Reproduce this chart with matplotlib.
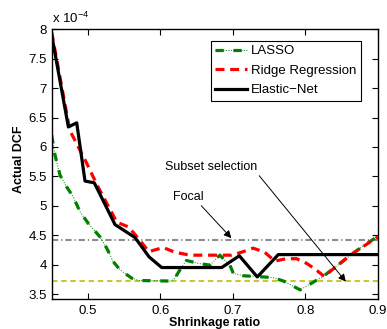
import numpy as np
import matplotlib
matplotlib.use("Agg")
import matplotlib.pyplot as plt
from matplotlib.ticker import FuncFormatter

plt.rcParams['font.family'] = ['Liberation Sans', 'DejaVu Sans']
plt.rcParams['mathtext.default'] = 'regular'

# --- data (Actual DCF in units of 1e-4) ---
lasso_x = [0.45, 0.4546, 0.4615, 0.4707, 0.4798, 0.489, 0.5005, 0.5167, 0.5259, 0.535,
           0.5443, 0.5604, 0.5696, 0.615, 0.62, 0.627, 0.636, 0.6525, 0.6686, 0.682,
           0.696, 0.7007, 0.7146, 0.742, 0.755, 0.77, 0.793, 0.811, 0.827, 0.848,
           0.869, 0.889, 0.9]
lasso_y = [6.2, 5.86, 5.52, 5.32, 5.15, 4.90, 4.70, 4.47, 4.28, 4.05,
           3.91, 3.77, 3.73, 3.72, 3.77, 3.91, 4.07, 4.02, 3.99, 4.16,
           3.99, 3.85, 3.81, 3.79, 3.78, 3.72, 3.57, 3.70, 3.82, 4.02,
           4.22, 4.39, 4.48]

ridge_x = [0.45, 0.475, 0.496, 0.514, 0.540, 0.556, 0.570, 0.584, 0.604, 0.620,
           0.641, 0.698, 0.712, 0.728, 0.744, 0.758, 0.774, 0.788, 0.802, 0.816,
           0.826, 0.862, 0.9]
ridge_y = [7.95, 6.28, 5.78, 5.32, 4.72, 4.64, 4.44, 4.22, 4.29, 4.21,
           4.16, 4.16, 4.21, 4.28, 4.21, 4.06, 4.10, 4.10, 4.02, 3.90,
           3.80, 4.16, 4.47]

enet_x = [0.45, 0.473, 0.4845, 0.496, 0.5088, 0.5374, 0.565, 0.5845, 0.6018, 0.6847,
          0.709, 0.7338, 0.7628, 0.9]
enet_y = [7.9, 6.34, 6.41, 5.42, 5.39, 4.68, 4.46, 4.13, 3.95, 3.95,
          4.15, 3.79, 4.17, 4.17]

focal_level = 4.42
subset_level = 3.72

x_ticks = [0.5, 0.6, 0.7, 0.8, 0.9]
y_ticks = [3.5, 4, 4.5, 5, 5.5, 6, 6.5, 7, 7.5, 8]

# --- plot ---
fig = plt.figure(figsize=(3.87, 3.29), dpi=100)
ax = fig.add_axes([51.7 / 387, 30 / 329, 326 / 387, 269.7 / 329])

ax.axhline(focal_level, color='#8c8c8c', lw=1.5, dashes=(3.0, 1.4, 0.6, 1.4))
ax.axhline(subset_level, color='#c8c832', lw=1.5, dashes=(2.6, 1.8))

g_thin, = ax.plot(lasso_x, lasso_y, color='#008000', lw=0.7, ls=':')
g_thick, = ax.plot(lasso_x, lasso_y, color='#008000', lw=2.3, dashes=(2.6, 3.0))
r_line, = ax.plot(ridge_x, ridge_y, color='red', lw=2.3, dashes=(2.8, 1.8))
k_line, = ax.plot(enet_x, enet_y, color='black', lw=2.3)

ax.set_xlim(0.45, 0.9)
ax.set_ylim(3.415, 8)
ax.set_xticks(x_ticks)
ax.set_yticks(y_ticks)
ax.yaxis.set_major_formatter(FuncFormatter(lambda v, p: '%g' % v))
ax.xaxis.set_major_formatter(FuncFormatter(lambda v, p: '%g' % v))
ax.tick_params(direction='in', top=True, right=True, labelsize=9.5, length=4, width=0.8)
ax.tick_params(axis='x', pad=4)
for s in ax.spines.values():
    s.set_linewidth(1.0)

ax.set_xlabel('Shrinkage ratio', fontsize=9, fontweight='bold')
ax.set_ylabel('Actual DCF', fontsize=9, fontweight='bold')
ax.xaxis.set_label_coords(0.5, -0.066)
ax.yaxis.set_label_coords(-0.082, 0.52)

ax.text(0.0, 1.012, 'x 10$^{-4}$', transform=ax.transAxes, fontsize=9.5,
        ha='left', va='bottom')

leg = ax.legend([(g_thin, g_thick), r_line, k_line],
                ['LASSO', 'Ridge Regression', 'Elastic\u2212Net'],
                loc='upper right', bbox_to_anchor=(0.949, 0.958), borderaxespad=0,
                fontsize=9.5, fancybox=False, framealpha=1, edgecolor='black',
                handlelength=2.4, labelspacing=0.55, handletextpad=0.3,
                borderpad=0.35)
leg.get_frame().set_linewidth(0.8)

ax.annotate('Subset selection', xy=(0.856, 3.71), xytext=(0.606, 5.66),
            fontsize=9, ha='left', va='center',
            arrowprops=dict(arrowstyle='-|>', color='black', lw=0.7,
                            mutation_scale=11, shrinkA=0, shrinkB=0,
                            relpos=(1.0, 0.0)))
ax.annotate('Focal', xy=(0.698, 4.45), xytext=(0.617, 5.15),
            fontsize=9, ha='left', va='center',
            arrowprops=dict(arrowstyle='-|>', color='black', lw=0.7,
                            mutation_scale=11, shrinkA=0, shrinkB=0,
                            relpos=(0.85, 0.0)))

fig.savefig('out.png', dpi=100)
